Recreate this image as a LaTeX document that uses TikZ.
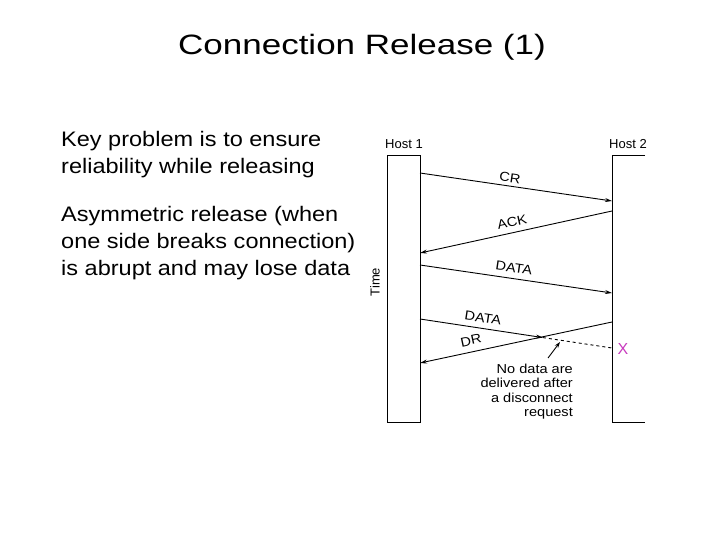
\documentclass[tikz,border=0pt]{standalone}
\usepackage{fontspec}
\setmainfont{Liberation Sans}
\newfontfamily\titlefont[FakeStretch=1.25]{Liberation Sans}
\newfontfamily\bodyfont[FakeStretch=1.12]{Liberation Sans}
\newfontfamily\notefont[FakeStretch=1.12]{Liberation Sans}
\usetikzlibrary{arrows.meta}
\definecolor{xmag}{RGB}{200,60,190}
\tikzset{
  body/.style={anchor=base west, inner sep=0pt, font=\bodyfont\fontsize{21}{24}\selectfont},
  small/.style={inner sep=0pt, font=\fontsize{13}{14.5}\selectfont},
  note/.style={inner sep=0pt, font=\notefont\fontsize{13}{14.3}\selectfont},
  msg/.style={line width=0.9pt, -{Stealth[length=7pt,width=4pt]}},
  box/.style={line width=0.9pt}
}
\begin{document}
\begin{tikzpicture}[x=1pt,y=-1pt]
\useasboundingbox (0,0) rectangle (720,540);
% title
\node[anchor=base, inner sep=0pt, font=\titlefont\fontsize{28}{32}\selectfont] (title) at (362,55) {Connection Release (1)};
% body text
\node[body] (t1) at (61,147) {Key problem is to ensure};
\node[body] (t2) at (61,174) {reliability while releasing};
\node[body] (t3) at (61,222) {Asymmetric release (when};
\node[body] (t4) at (61,248) {one side breaks connection)};
\node[body] (t5) at (61,275) {is abrupt and may lose data};
% hosts
\draw[box] (387,155) rectangle (420,422);
\draw[box] (645,155) -- (612,155) -- (612,422) -- (645,422);
\node[small, anchor=base] (h1) at (404,149) {Host 1};
\node[small, anchor=base] (h2) at (628,149) {Host 2};
\node[small, rotate=90] (time) at (375,282) {Time};
% coordinates
\coordinate (cr1) at (420,173); \coordinate (cr2) at (612,201);
\coordinate (ack1) at (612,211); \coordinate (ack2) at (420,253);
\coordinate (da1) at (420,265); \coordinate (da2) at (612,293);
\coordinate (db1) at (420,319); \coordinate (dbm) at (543,337.6); \coordinate (db2) at (612,348);
\coordinate (dr1) at (612,322); \coordinate (dr2) at (420,363);
\coordinate (pa) at (548,358); \coordinate (pb) at (560,342);
% messages
\draw[msg] (cr1) -- (cr2);
\draw[msg] (ack1) -- (ack2);
\draw[msg] (da1) -- (da2);
\draw[msg] (db1) -- (dbm);
\draw[line width=0.9pt, dashed] (dbm) -- (db2);
\draw[msg] (dr1) -- (dr2);
\draw[line width=0.9pt, -{Stealth[length=6pt,width=4pt]}] (pa) -- (pb);
% labels
\node[note, rotate=-8.3] (lcr) at (510,178) {CR};
\node[note, rotate=12.3] (lack) at (512,222) {ACK};
\node[note, rotate=-8.3] (lda) at (514,268) {DATA};
\node[note, rotate=-8.6] (ldb) at (483,318) {DATA};
\node[note, rotate=12.1] (ldr) at (471,340.5) {DR};
\node[inner sep=0pt, font=\fontsize{16}{16}\selectfont, text=xmag] (x) at (623,349) {X};
\node[note, anchor=north east, align=right] (note) at (573,364)
  {No data are\\delivered after\\a disconnect\\request};
\end{tikzpicture}
\end{document}
